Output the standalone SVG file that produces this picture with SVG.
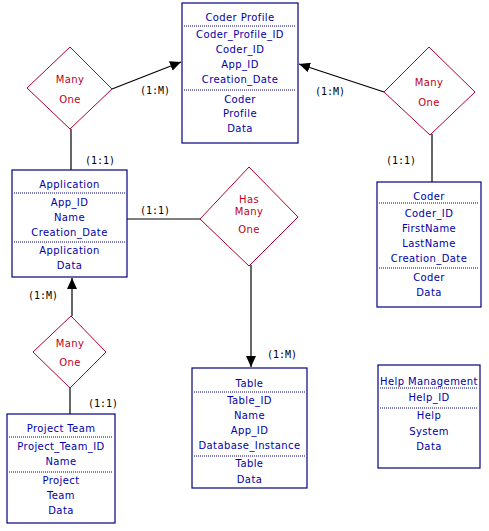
<svg xmlns="http://www.w3.org/2000/svg" width="489" height="531" viewBox="0 0 489 531">
<style>
.box{fill:#fff;stroke:#000080;stroke-width:1.2}
.dot{stroke:#000080;stroke-width:1;stroke-dasharray:1,1}
.t{font-family:"DejaVu Sans",Verdana,sans-serif;font-size:10px;fill:#0000a8;text-anchor:middle;letter-spacing:0.4px}
.dia{fill:#fff;stroke:#b0002a;stroke-width:1}
.r{font-family:"DejaVu Sans",Verdana,sans-serif;font-size:10px;fill:#c00020;text-anchor:middle;letter-spacing:0.4px}
.ln{stroke:#000;stroke-width:1.2;fill:none}
.lb{font-family:"DejaVu Sans Mono","Liberation Mono",monospace;font-size:10px;fill:#000;text-anchor:middle}
</style>
<defs>
<marker id="ah" markerUnits="userSpaceOnUse" markerWidth="12" markerHeight="10" refX="11" refY="5" orient="auto">
<path d="M0,0 L11,5 L0,10 Z" fill="#000"/>
</marker>
</defs>
<rect width="489" height="531" fill="#fff"/>
<g id="connectors">
<line class="ln" x1="112" y1="89" x2="181" y2="62" marker-end="url(#ah)"/>
<line class="ln" x1="71" y1="129" x2="71" y2="170"/>
<line class="ln" x1="384" y1="92" x2="299" y2="64" marker-end="url(#ah)"/>
<line class="ln" x1="432" y1="134" x2="432" y2="182"/>
<line class="ln" x1="127" y1="219" x2="200" y2="219"/>
<line class="ln" x1="251" y1="265" x2="251" y2="367" marker-end="url(#ah)"/>
<line class="ln" x1="72" y1="316" x2="72" y2="278" marker-end="url(#ah)"/>
<line class="ln" x1="70" y1="388" x2="70" y2="414"/>
<text class="lb" x="155" y="94">(1:M)</text>
<text class="lb" x="100" y="164">(1:1)</text>
<text class="lb" x="330" y="95">(1:M)</text>
<text class="lb" x="401" y="164">(1:1)</text>
<text class="lb" x="155" y="214">(1:1)</text>
<text class="lb" x="282" y="358">(1:M)</text>
<text class="lb" x="43" y="299">(1:M)</text>
<text class="lb" x="103" y="407">(1:1)</text>
</g>
<g id="coder-profile">
<rect class="box" x="182" y="3" width="116" height="140"/>
<text class="t" x="240" y="21">Coder Profile</text>
<line class="dot" x1="184" y1="26" x2="296" y2="26"/>
<text class="t" x="240" y="38">Coder_Profile_ID</text>
<text class="t" x="240" y="53">Coder_ID</text>
<text class="t" x="240" y="68">App_ID</text>
<text class="t" x="240" y="83">Creation_Date</text>
<line class="dot" x1="184" y1="90" x2="296" y2="90"/>
<text class="t" x="240" y="103">Coder</text>
<text class="t" x="240" y="117">Profile</text>
<text class="t" x="240" y="132">Data</text>
</g>
<g id="diamond-app-coderprofile">
<polygon class="dia" points="70,47 112,89 70,129 27,88"/>
<text class="r" x="70" y="83">Many</text>
<text class="r" x="70" y="103">One</text>
</g>
<g id="diamond-coder-coderprofile">
<polygon class="dia" points="429,47 475,92 430,135 384,92"/>
<text class="r" x="429" y="86">Many</text>
<text class="r" x="429" y="106">One</text>
</g>
<g id="application">
<rect class="box" x="12" y="170" width="115" height="107"/>
<text class="t" x="69.5" y="188">Application</text>
<line class="dot" x1="14" y1="193" x2="125" y2="193"/>
<text class="t" x="69.5" y="206">App_ID</text>
<text class="t" x="69.5" y="221">Name</text>
<text class="t" x="69.5" y="236">Creation_Date</text>
<line class="dot" x1="14" y1="242" x2="125" y2="242"/>
<text class="t" x="69.5" y="254">Application</text>
<text class="t" x="69.5" y="269">Data</text>
</g>
<g id="diamond-app-table">
<polygon class="dia" points="249,167 298,217 249,266 200,219"/>
<text class="r" x="249" y="203">Has</text>
<text class="r" x="249" y="215">Many</text>
<text class="r" x="249" y="233">One</text>
</g>
<g id="coder">
<rect class="box" x="377" y="182" width="104" height="125"/>
<text class="t" x="429" y="200">Coder</text>
<line class="dot" x1="379" y1="203" x2="479" y2="203"/>
<text class="t" x="429" y="217">Coder_ID</text>
<text class="t" x="429" y="232">FirstName</text>
<text class="t" x="429" y="247">LastName</text>
<text class="t" x="429" y="262">Creation_Date</text>
<line class="dot" x1="379" y1="268" x2="479" y2="268"/>
<text class="t" x="429" y="281">Coder</text>
<text class="t" x="429" y="296">Data</text>
</g>
<g id="diamond-team-app">
<polygon class="dia" points="71,316 106,352 70,388 33,352"/>
<text class="r" x="70" y="347">Many</text>
<text class="r" x="70" y="366">One</text>
</g>
<g id="table">
<rect class="box" x="192" y="368" width="115" height="120"/>
<text class="t" x="249.5" y="387">Table</text>
<line class="dot" x1="194" y1="392" x2="305" y2="392"/>
<text class="t" x="249.5" y="404">Table_ID</text>
<text class="t" x="249.5" y="419">Name</text>
<text class="t" x="249.5" y="434">App_ID</text>
<text class="t" x="249.5" y="449">Database_Instance</text>
<line class="dot" x1="194" y1="456" x2="305" y2="456"/>
<text class="t" x="249.5" y="467">Table</text>
<text class="t" x="249.5" y="483">Data</text>
</g>
<g id="help-management">
<rect class="box" x="378" y="365" width="102" height="103"/>
<text class="t" x="429" y="385">Help Management</text>
<line class="dot" x1="380" y1="388" x2="478" y2="388"/>
<text class="t" x="429" y="401">Help_ID</text>
<line class="dot" x1="380" y1="408" x2="478" y2="408"/>
<text class="t" x="429" y="419">Help</text>
<text class="t" x="429" y="435">System</text>
<text class="t" x="429" y="450">Data</text>
</g>
<g id="project-team">
<rect class="box" x="7" y="414" width="108" height="109"/>
<text class="t" x="61" y="432">Project Team</text>
<line class="dot" x1="9" y1="437" x2="113" y2="437"/>
<text class="t" x="61" y="450">Project_Team_ID</text>
<text class="t" x="61" y="465">Name</text>
<line class="dot" x1="9" y1="472" x2="113" y2="472"/>
<text class="t" x="61" y="484">Project</text>
<text class="t" x="61" y="499">Team</text>
<text class="t" x="61" y="514">Data</text>
</g>
</svg>
